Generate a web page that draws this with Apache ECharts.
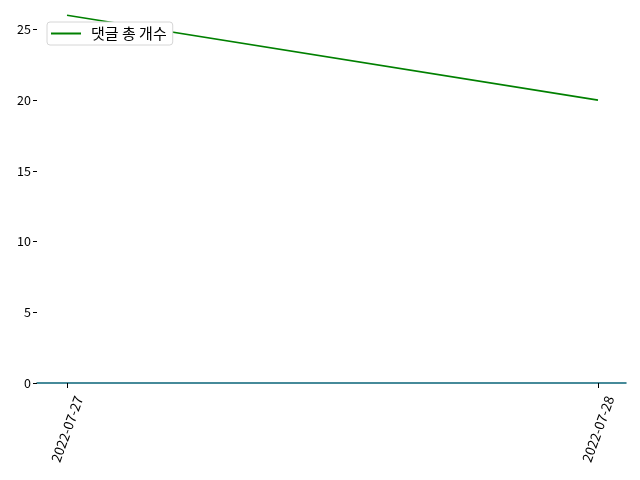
<!DOCTYPE html>
<html>
<head>
<meta charset="utf-8">
<script src="https://cdn.jsdelivr.net/npm/echarts@6/dist/echarts.min.js"></script>
<style>
  html, body { margin: 0; padding: 0; background: #fff; }
  #chart { width: 640px; height: 480px; }
</style>
</head>
<body>
<div id="chart"></div>
<script>
// 데이터
const dates = ['2022-07-27', '2022-07-28'];
const commentTotals = [26, 20];
const seriesName = '댓글 총 개수';
const yTicks = [0, 5, 10, 15, 20, 25];

const chart = echarts.init(document.getElementById('chart'), null, { renderer: 'canvas' });
const font = '"Noto Sans CJK KR", "DejaVu Sans", sans-serif';

const option = {
  animation: false,
  backgroundColor: '#fff',
  grid: { left: 37, right: 14, top: 11, bottom: 97 },
  legend: {
    left: 47, top: 22,
    padding: [4, 6, 4, 4],
    itemWidth: 30, itemHeight: 2, itemGap: 8,
    backgroundColor: '#fff',
    borderColor: '#d6d6d6', borderWidth: 1, borderRadius: 3,
    textStyle: { fontFamily: font, fontSize: 15, color: '#000', padding: [0, 0, 0, 5] },
    data: [{ name: seriesName, icon: 'rect' }]
  },
  xAxis: {
    type: 'value',
    min: -0.0565, max: 1.0527,
    splitLine: { show: false },
    axisLine: { show: true, onZero: false, lineStyle: { color: '#0a6478', width: 1.5 } },
    axisTick: { show: true, length: 5, customValues: dates.map((d, i) => i), lineStyle: { color: '#000' } },
    axisLabel: {
      customValues: dates.map((d, i) => i),
      formatter: v => dates[Math.round(v)] || '',
      rotate: 70, align: 'center', verticalAlign: 'middle',
      fontFamily: font, fontSize: 13.5, color: '#000', margin: 46
    }
  },
  yAxis: {
    type: 'value',
    min: 0, max: 26.3,
    splitLine: { show: false },
    axisLine: { show: false, onZero: false },
    axisTick: { show: true, length: 4, customValues: yTicks, lineStyle: { color: '#000' } },
    axisLabel: { customValues: yTicks, fontFamily: font, fontSize: 12.5, color: '#000', margin: 6 }
  },
  series: [{
    name: seriesName,
    type: 'line',
    data: commentTotals.map((v, i) => [i, v]),
    symbol: 'none',
    color: '#008000',
    lineStyle: { color: '#008000', width: 1.6 }
  }]
};
chart.setOption(option);
</script>
</body>
</html>
